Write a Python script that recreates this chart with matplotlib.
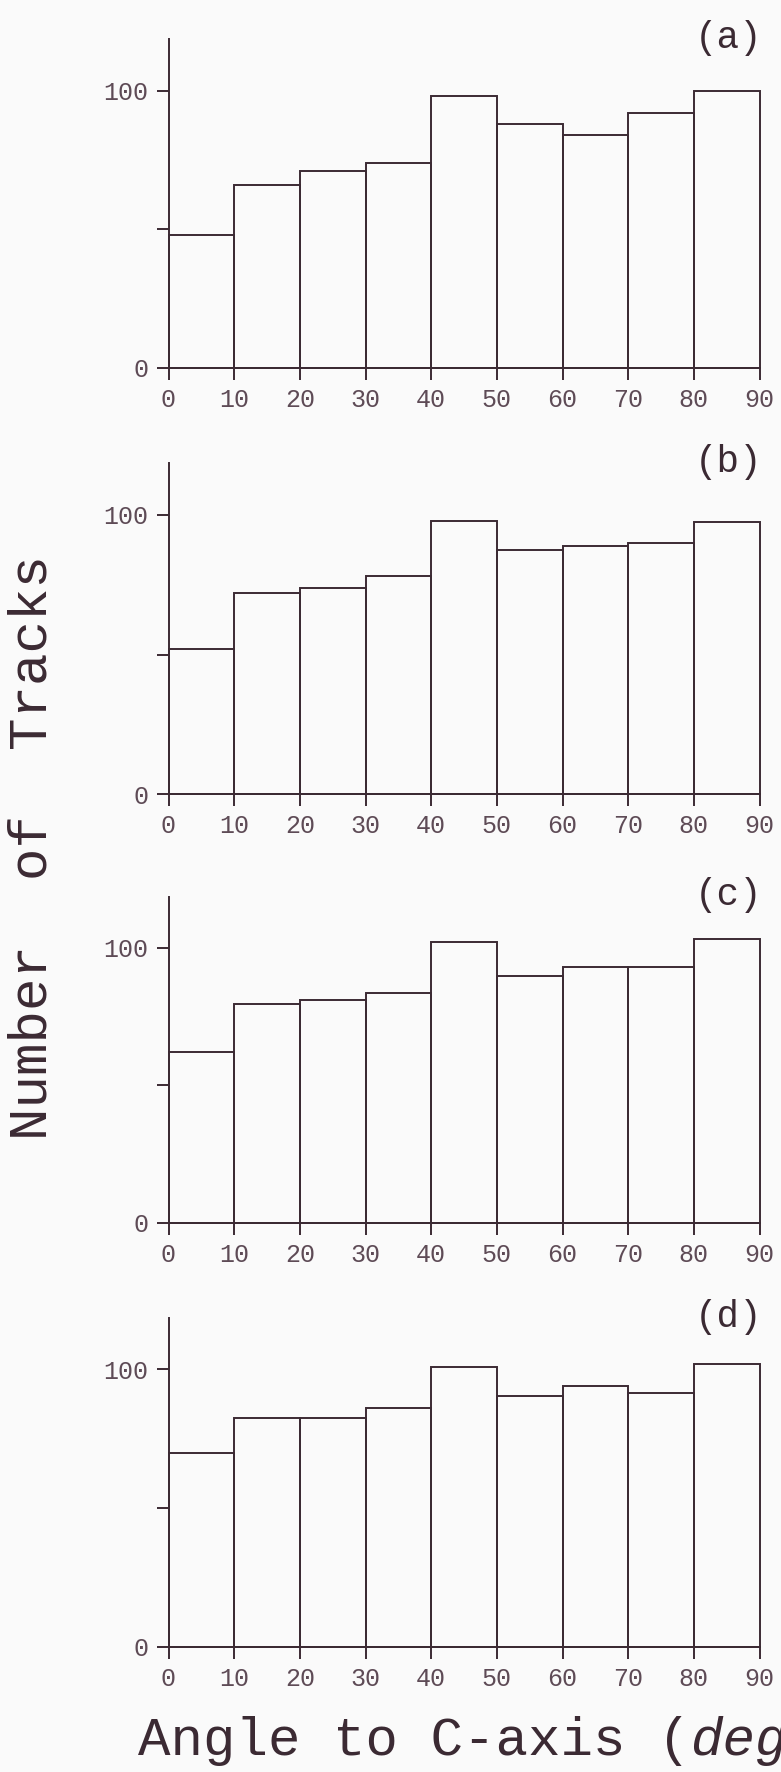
import numpy as np
import matplotlib
matplotlib.use("Agg")
import matplotlib.pyplot as plt

# histogram data (tracks per 10 degree bin)
bin_edges = [0, 10, 20, 30, 40, 50, 60, 70, 80, 90]
counts_a = [48, 66, 71, 74, 98, 88, 84, 92, 100]
counts_b = [52, 72, 74, 78, 98, 87.5, 89, 90, 97.5]
counts_c = [62, 79.5, 81, 83.5, 102, 89.5, 93, 93, 103]
counts_d = [70, 82.5, 82.5, 86, 101, 90.5, 94, 91.5, 102]
panel_names = ["(a)", "(b)", "(c)", "(d)"]
ytick_vals = [0, 50, 100]
ytick_text = ["0", "", "100"]
xtick_vals = bin_edges

all_counts = [counts_a, counts_b, counts_c, counts_d]

W, H = 781, 1772
ink = "#3b2a33"
grey_ink = "#5e4b56"
bg = "#fafafa"
mono = "Liberation Mono"

# pixel positions of the y=0 and y=100 lines of each panel
y0_px = [367.5, 794, 1222.5, 1646.7]
y100_px = [90.7, 515, 947.5, 1369.3]
x0_px, x90_px = 168.5, 759.5
ytop = 118.5
lw = 1.4

fig = plt.figure(figsize=(W / 100, H / 100), dpi=100, facecolor=bg)

for k in range(4):
    per_unit = (y0_px[k] - y100_px[k]) / 100.0
    h = ytop * per_unit
    ax = fig.add_axes([x0_px / W, 1 - y0_px[k] / H, (x90_px - x0_px) / W, h / H])
    ax.set_facecolor("none")
    lefts = bin_edges[:-1]
    ax.bar(lefts, all_counts[k], width=10, align="edge", fill=False,
           edgecolor=ink, linewidth=lw, clip_on=False)
    ax.set_xlim(0, 90)
    ax.set_ylim(0, ytop)
    for s in ["top", "right"]:
        ax.spines[s].set_visible(False)
    for s in ["left", "bottom"]:
        ax.spines[s].set_color(ink)
        ax.spines[s].set_linewidth(lw)
    ax.set_xticks(xtick_vals)
    ax.set_xticklabels([str(v) for v in xtick_vals])
    ax.set_yticks(ytick_vals)
    ax.set_yticklabels(ytick_text)
    ax.tick_params(axis="both", direction="out", length=8.5, width=lw,
                   color=ink, labelcolor=grey_ink, labelsize=18)
    ax.tick_params(axis="x", pad=6)
    ax.tick_params(axis="y", pad=6)
    for lab in ax.get_xticklabels() + ax.get_yticklabels():
        lab.set_fontfamily(mono)
    ax.text(90.4, 119, panel_names[k], ha="right", va="center",
            fontsize=27, family=mono, color=ink, clip_on=False)

# shared axis titles (x title runs off the right edge, as in the scan)
fig.text(33 / W, 1 - 848 / H, "Number  of  Tracks", rotation=90,
         ha="center", va="center", fontsize=39, family=mono, color=ink)
fig.text(138 / W, 1 - 1755 / H, "Angle to C-axis (", ha="left",
         va="baseline", fontsize=39, family=mono, color=ink)
adv = 0.6 * 39 * 100 / 72
fig.text((138 + 17 * adv) / W, 1 - 1755 / H, "deg", ha="left",
         va="baseline", fontsize=39, family=mono, style="italic", color=ink)

fig.savefig("out.png", dpi=100, facecolor=bg)
